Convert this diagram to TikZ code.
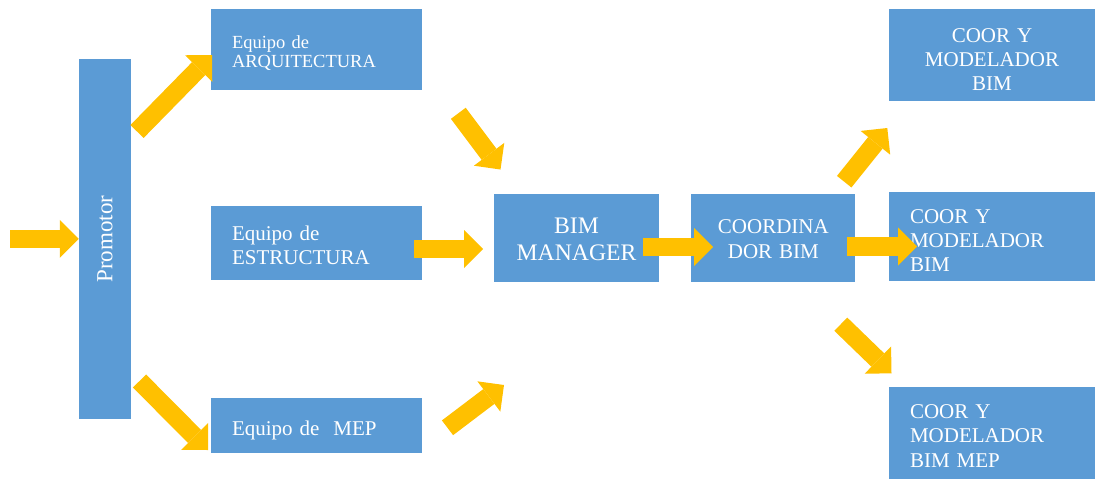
\documentclass[tikz,border=0pt]{standalone}
\usepackage{fontspec}
\setmainfont{Liberation Serif}
\usetikzlibrary{arrows.meta,positioning}
\definecolor{azul}{HTML}{5B9BD5}
\definecolor{amarillo}{HTML}{FFC000}
\newcommand{\letra}[2]{\fontsize{#1}{#2}\selectfont}
\tikzset{
  caja/.style={fill=azul, text=white, inner ysep=0pt, inner xsep=21pt, align=left},
  centrada/.style={caja, inner xsep=0pt, align=center},
  flecha/.style={draw=amarillo, line width=18.5pt,
    -{Triangle[length=19pt,width=38pt,line width=0pt,fill=amarillo]}}
}

\begin{document}
\begin{tikzpicture}[x=1pt,y=-1pt]
  \useasboundingbox (0,0) rectangle (1095,479);
  % cajas
  \node (promotor) [fill=azul, text=white, inner sep=0pt, minimum width=360pt, minimum height=52pt,
    rotate=90, font=\letra{23}{27}] at (105,239) {Promotor};
  \node (arq) [caja, text width=169pt, text height=39pt, text depth=42pt, font=\letra{18.5}{20}]
    at (316.5,49.5) {Equipo de\\ARQUITECTURA};
  \node (est) [caja, text width=169pt, text height=34pt, text depth=40pt, font=\letra{21}{24}]
    at (316.5,243) {Equipo de\\ESTRUCTURA};
  \node (mep) [caja, text width=169pt, text height=37pt, text depth=18pt, font=\letra{21}{24}]
    at (316.5,425.5) {Equipo de\ \ MEP};
  \node (bim) [centrada, text width=165pt, text height=39pt, text depth=49pt, font=\letra{23.7}{27}]
    at (576.5,238) {BIM\\MANAGER};
  \node (coord) [centrada, right=32pt of bim, text width=164pt, text height=39pt, text depth=49pt,
    font=\letra{21}{25}] {COORDINA\\DOR BIM};
  \node (modA) [centrada, text width=206pt, text height=33pt, text depth=59pt, font=\letra{21}{24}]
    at (992,55) {COOR Y\\MODELADOR\\BIM};
  \node (modB) [caja, text width=164pt, text height=31pt, text depth=58pt, font=\letra{21}{24}]
    at (992,236.5) {COOR Y\\MODELADOR\\BIM};
  \node (modC) [caja, text width=164pt, text height=31pt, text depth=61pt, font=\letra{21}{24.5}]
    at (992,433) {COOR Y\\MODELADOR\\BIM MEP};

  % extremos de las flechas
  \coordinate (entrada) at (10,238.8);
  \coordinate (a1) at (137,131.5);   \coordinate (a2) at (212,55);
  \coordinate (m1) at (139.5,381);   \coordinate (m2) at (208,450);
  \coordinate (r1) at (458.3,113.3); \coordinate (r2) at (500.5,169.5);
  \coordinate (s1) at (414,249);     \coordinate (s2) at (483,249);
  \coordinate (p1) at (447.5,427.8); \coordinate (p2) at (504,385);
  \coordinate (b1) at (643,247);     \coordinate (b2) at (713,247);
  \coordinate (c1) at (844.2,181.7); \coordinate (c2) at (887.3,128);
  \coordinate (d1) at (847,246.5);   \coordinate (d2) at (917,246.5);
  \coordinate (e1) at (840.8,324.2); \coordinate (e2) at (891.5,373.3);

  % flechas
  \draw[flecha] (entrada) -- (entrada -| promotor.north);
  \draw[flecha] (a1) -- (a2);
  \draw[flecha] (m1) -- (m2);
  \draw[flecha] (r1) -- (r2);
  \draw[flecha] (s1) -- (s2);
  \draw[flecha] (p1) -- (p2);
  \draw[flecha] (b1) -- (b2);
  \draw[flecha] (c1) -- (c2);
  \draw[flecha] (d1) -- (d2);
  \draw[flecha] (e1) -- (e2);
\end{tikzpicture}
\end{document}
